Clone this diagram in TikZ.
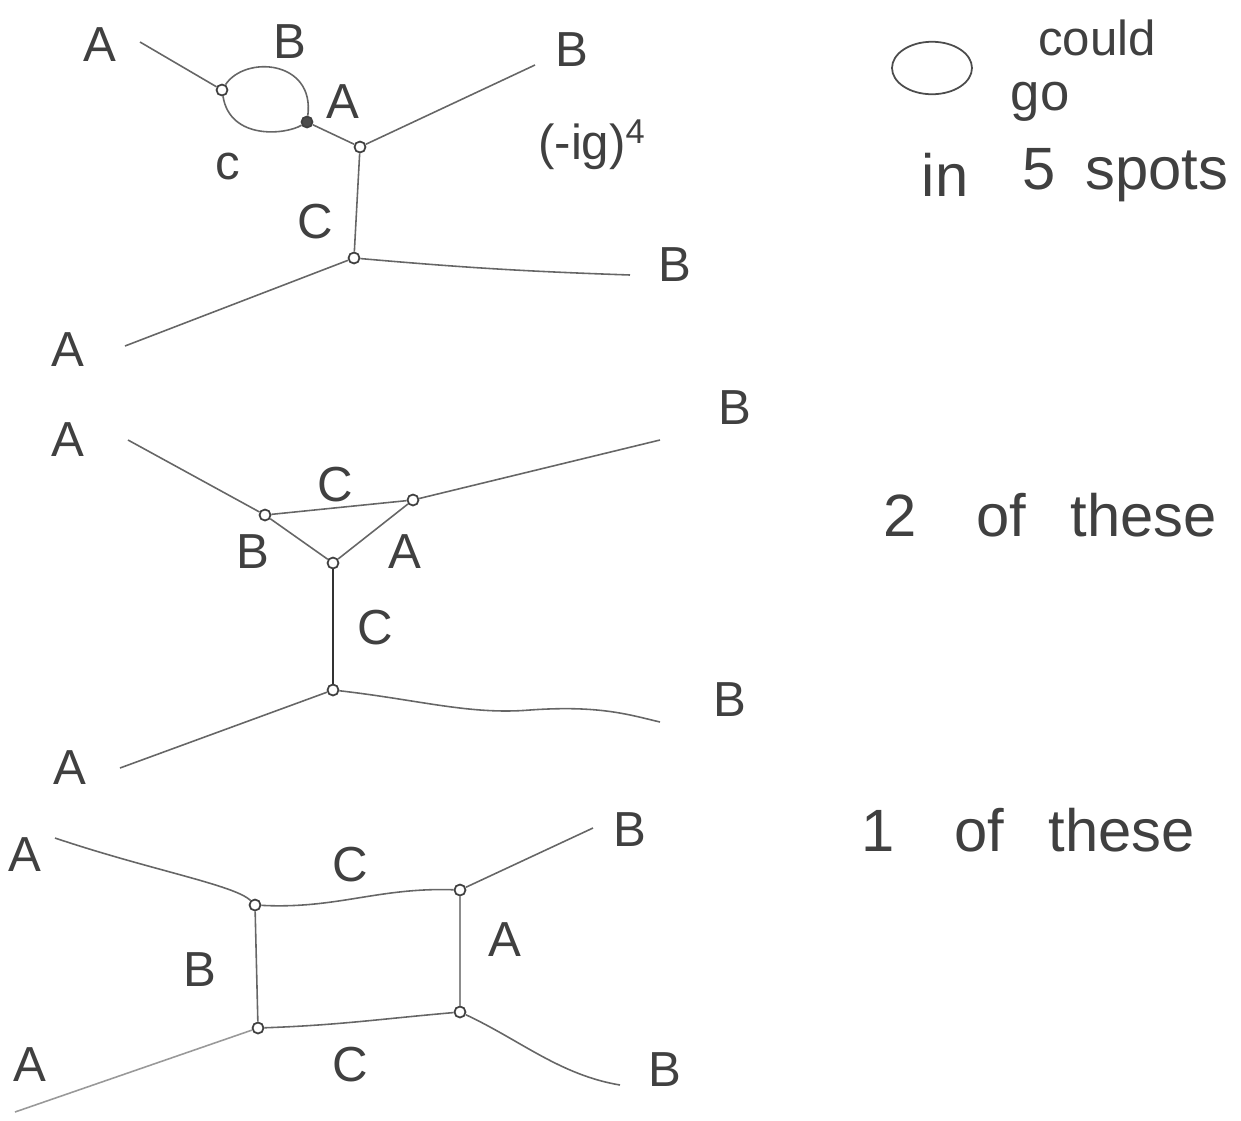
\documentclass[tikz,border=0pt]{standalone}
\usepackage{fontspec}
\setmainfont{Liberation Sans}
\usetikzlibrary{shapes.geometric}
\begin{document}
\begin{tikzpicture}[x=0.02cm,y=-0.02cm,
  pencil/.style={draw=black!60, line width=0.9pt},
  vtx/.style={circle, draw=black!75, line width=1pt, minimum size=0.22cm, inner sep=0pt, fill=white},
  lbl/.style={text=black!75, font=\fontsize{28}{30}\selectfont, inner sep=1pt},
  note/.style={text=black!75, font=\fontsize{34}{36}\selectfont, inner sep=1pt}]
\useasboundingbox (0,0) rectangle (1241,1120);

% ---------- top diagram ----------
\node[vtx] (v1) at (222,90) {};
\node[vtx, fill=black!70] (v2) at (307,122) {};
\node[vtx] (v3) at (360,147) {};
\node[vtx] (v4) at (354,258) {};
\coordinate (ta1) at (140,42);
\coordinate (tb1) at (535,65);
\coordinate (ta2) at (125,346);
\coordinate (tb2) at (630,275);
\draw[pencil] (ta1) -- (v1);
\draw[pencil] (v1) .. controls (245,55) and (315,60) .. (v2);
\draw[pencil] (v1) .. controls (230,140) and (285,135) .. (v2);
\draw[pencil] (v2) -- (v3);
\draw[pencil] (v3) -- (tb1);
\draw[pencil] (v3) -- (v4);
\draw[pencil] (v4) -- (ta2);
\draw[pencil] (v4) to[out=-5,in=178] (tb2);
\node[lbl] (tA1) at (100,45) {A};
\node[lbl] (tB0) at (290,42) {B};
\node[lbl] (tA0) at (343,102) {A};
\node[lbl] (tC0) at (228,166) {c};
\node[lbl] (tB1) at (572,50) {B};
\node[lbl] (tC1) at (315,222) {C};
\node[lbl] (tA2) at (68,350) {A};
\node[lbl] (tB2) at (675,265) {B};
\node[lbl] (tig) at (592,145) {(-ig)\textsuperscript{4}};

% ---------- note top right ----------
\node[draw=black!70, line width=1pt, ellipse, minimum width=1.6cm, minimum height=1.05cm] (loop) at (932,68) {};
\node[note, font=\fontsize{28}{30}\selectfont] (could) at (1097,38) {could};
\node[note, font=\fontsize{30}{32}\selectfont] (go) at (1040,102) {go};
\node[note] (in) at (945,175) {in};
\node[note] (spots) at (1125,175) {5\hspace{0.5em}spots};

% ---------- middle diagram ----------
\node[vtx] (m1) at (265,515) {};
\node[vtx] (m2) at (413,500) {};
\node[vtx] (m3) at (333,563) {};
\node[vtx] (m4) at (333,690) {};
\coordinate (ma1) at (128,440);
\coordinate (mb1) at (660,440);
\coordinate (ma2) at (120,768);
\coordinate (mb2) at (660,722);
\draw[pencil] (ma1) -- (m1);
\draw[pencil] (m1) -- (m2);
\draw[pencil] (m2) -- (mb1);
\draw[pencil] (m1) -- (m3);
\draw[pencil] (m3) -- (m2);
\draw[pencil, black!80] (m3) -- (m4);
\draw[pencil] (m4) -- (ma2);
\draw[pencil] (m4) .. controls (420,700) and (470,715) .. (530,710) .. controls (600,705) and (630,715) .. (mb2);
\node[lbl] (mA1) at (68,440) {A};
\node[lbl] (mC1) at (335,485) {C};
\node[lbl] (mB1) at (735,408) {B};
\node[lbl] (mB0) at (253,552) {B};
\node[lbl] (mA0) at (405,552) {A};
\node[lbl] (mC2) at (375,628) {C};
\node[lbl] (mA2) at (70,768) {A};
\node[lbl] (mB2) at (730,700) {B};
\node[note] (two) at (1050,515) {2\hspace{1em}of\hspace{0.75em}these};

% ---------- bottom diagram ----------
\node[vtx] (b1) at (255,905) {};
\node[vtx] (b2) at (460,890) {};
\node[vtx] (b3) at (258,1028) {};
\node[vtx] (b4) at (460,1012) {};
\coordinate (ba1) at (55,838);
\coordinate (bb1) at (593,828);
\coordinate (ba2) at (15,1112);
\coordinate (bb2) at (620,1085);
\draw[pencil] (ba1) .. controls (150,870) and (235,885) .. (b1);
\draw[pencil] (b1) to[out=-3,in=178] (b2);
\draw[pencil] (b2) -- (bb1);
\draw[pencil] (b1) -- (b3);
\draw[pencil, black!45] (b2) -- (b4);
\draw[pencil] (b3) to[out=2,in=185] (b4);
\draw[pencil, black!40] (b3) -- (ba2);
\draw[pencil] (b4) .. controls (520,1040) and (560,1075) .. (bb2);
\node[lbl] (bA1) at (25,855) {A};
\node[lbl] (bC1) at (350,865) {C};
\node[lbl] (bB1) at (630,830) {B};
\node[lbl] (bB0) at (200,970) {B};
\node[lbl] (bA0) at (505,940) {A};
\node[lbl] (bC2) at (350,1065) {C};
\node[lbl] (bA2) at (30,1065) {A};
\node[lbl] (bB2) at (665,1070) {B};
\node[note] (one) at (1028,830) {1\hspace{1em}of\hspace{0.75em}these};
\end{tikzpicture}
\end{document}
